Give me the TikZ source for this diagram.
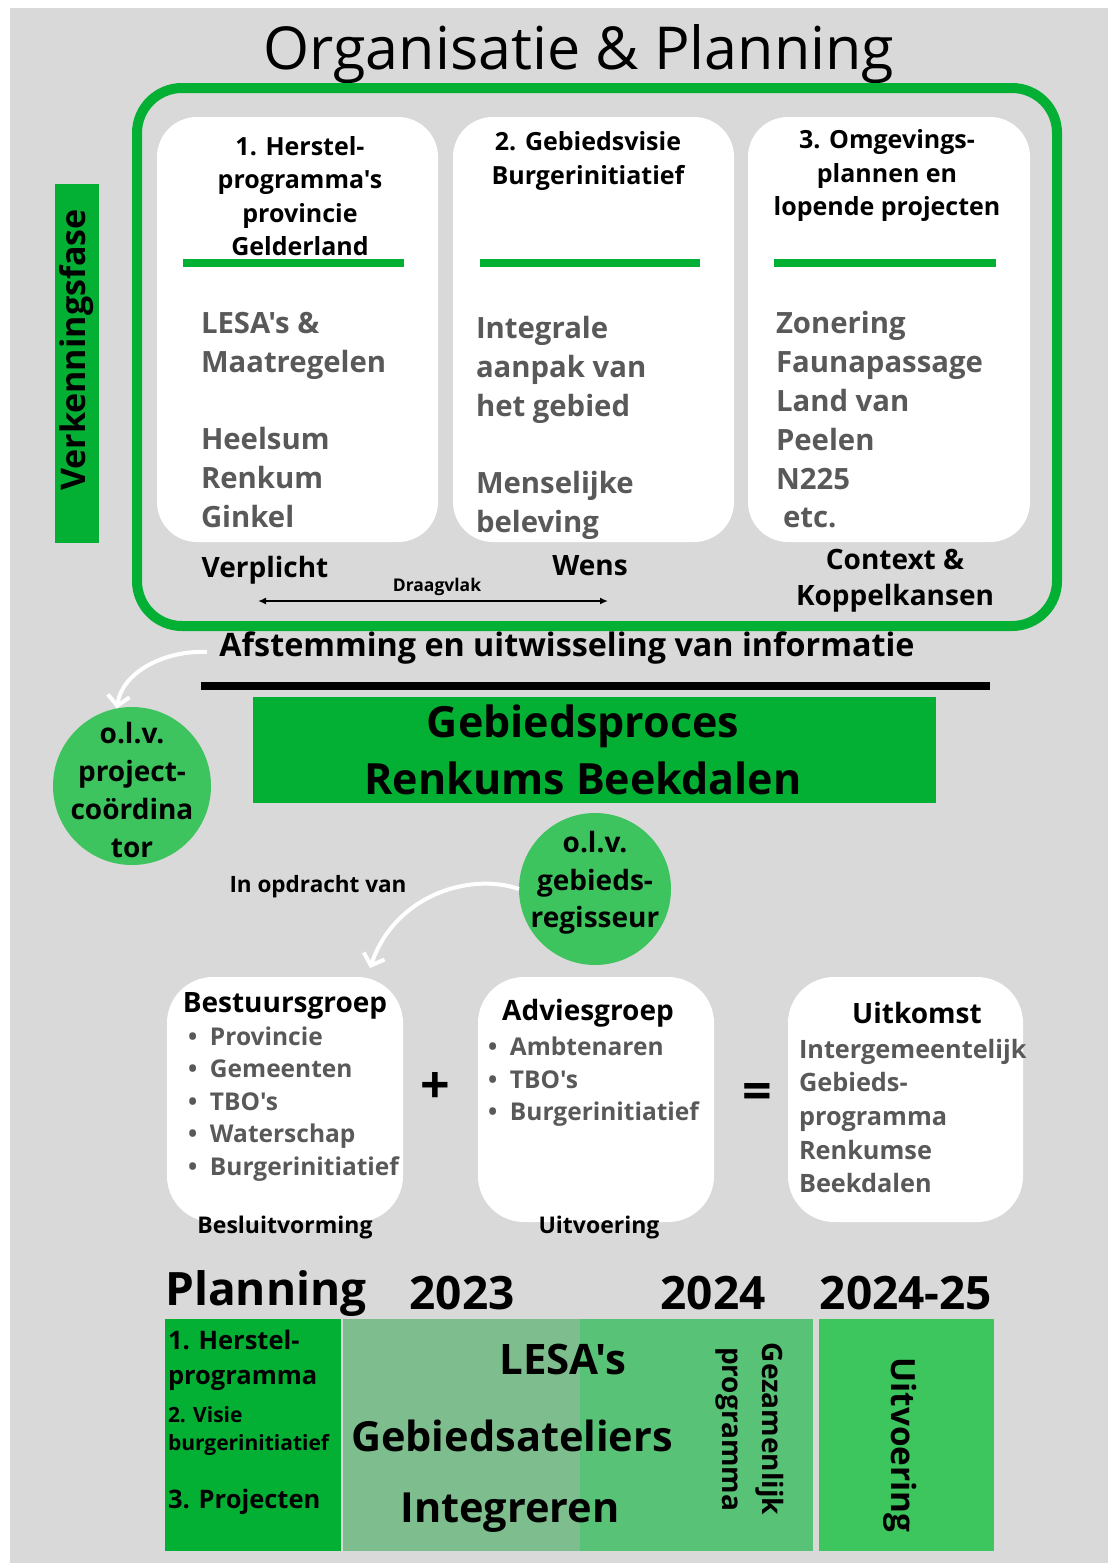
\documentclass[tikz,border=0pt]{standalone}
\usepackage{fontspec}
\setmainfont{Open Sans}[Ligatures=TeXOff]
\usetikzlibrary{arrows.meta}
\definecolor{bgc}{HTML}{D9D9D9}
\definecolor{dg}{HTML}{03B034}
\definecolor{cg}{HTML}{3EC45E}
\definecolor{mone}{HTML}{7EBD8D}
\definecolor{mtwo}{HTML}{58C277}
\definecolor{rg}{HTML}{3DC55E}
\definecolor{gt}{HTML}{595959}
\newcommand{\fsz}[2]{\fontsize{#1pt}{#2pt}\selectfont}
\begin{document}
\begin{tikzpicture}[x=1pt,y=-1pt,
  every node/.style={inner sep=0pt,outer sep=0pt},
  wbox/.style={fill=white,rounded corners=40pt,anchor=north west},
  lbox/.style={fill=white,rounded corners=46pt,anchor=north west,minimum width=236pt,minimum height=245pt},
  head/.style={font=\bfseries\fsz{25}{33.5},align=center,text=black},
  body/.style={font=\bfseries\fsz{29.3}{38.8},align=left,anchor=west,text=gt},
  lab/.style={font=\bfseries\fsz{28}{36},align=center,text=black},
  btitle/.style={font=\bfseries\fsz{28}{32},text=black},
  blist/.style={font=\bfseries\fsz{24.5}{32.5},align=left,anchor=west,text=gt},
  ctext/.style={font=\bfseries\fsz{28}{37.7},align=center,text=black},
  year/.style={font=\bfseries\fsz{46}{50},text=black},
  big/.style={font=\bfseries\fsz{41.5}{44}},
  cell/.style={anchor=north west},
  warrow/.style={white,line width=4pt,-{Straight Barb[length=10pt,width=22pt,line width=4pt]}},
  divider/.style={dg,line width=8pt}]
\useasboundingbox (0,0) rectangle (1108,1563);
\fill[white] (0,0) rectangle (1108,1563);
\fill[bgc] (10,8) rectangle (1108,1563);

% title
\node[font=\fsz{59.2}{62}] (title) at (579,54) {Organisatie \& Planning};

% outer frame
\node[draw=dg,line width=10pt,rounded corners=45pt,anchor=north west,minimum width=920pt,minimum height=538pt] (frame) at (137,88) {};

% verkenningsfase
\node[fill=dg,anchor=north west,minimum width=44pt,minimum height=359pt] (vk) at (55,184) {};
\node[font=\bfseries\fsz{34}{38},rotate=90] (vkt) at (77,350) {Verkenningsfase};

% three white boxes
\node[wbox,minimum width=281pt,minimum height=425pt] (b1) at (157,117) {};
\node[wbox,minimum width=281pt,minimum height=425pt] (b2) at (453,117) {};
\node[wbox,minimum width=282pt,minimum height=425pt] (b3) at (748,117) {};

\node[head] (h1) at (300,196) {1. Herstel-\\programma's\\provincie\\Gelderland};
\node[head] (h2) at (588,161) {2. Gebiedsvisie\\Burgerinitiatief};
\node[head] (h3) at (887,176) {3. Omgevings-\\plannen en\\lopende projecten};

\draw[divider] (183,263) -- (404,263);
\draw[divider] (480,263) -- (700,263);
\draw[divider] (774,263) -- (996,263);

\node[body] (t1) at (201,420) {LESA's \&\\Maatregelen\\[38.8pt]Heelsum\\Renkum\\Ginkel};
\node[body] (t2) at (476,428) {Integrale\\aanpak van\\het gebied\\[38.8pt]Menselijke\\beleving};
\node[body] (t3) at (776,420) {Zonering\\Faunapassage\\Land van\\Peelen\\N225\\\hspace{7pt}etc.};

\node[lab] (verp) at (265,570) {Verplicht};
\node[lab] (wens) at (590,566) {Wens};
\node[lab] (ctx) at (895,581) {Context \&\\Koppelkansen};
\node[font=\bfseries\fsz{17.5}{20}] (draag) at (437,587) {Draagvlak};
\coordinate (da) at (258,601);
\coordinate (db) at (608,601);
\draw[{Latex[length=8pt,width=7pt]}-{Latex[length=8pt,width=7pt]},line width=1.8pt] (da) -- (db);

% afstemming
\node[font=\bfseries\fsz{32.3}{36}] (afst) at (567,648) {Afstemming en uitwisseling van informatie};
\coordinate (bla) at (201,686);
\coordinate (blb) at (990,686);
\draw[line width=8pt] (bla) -- (blb);

% gebiedsproces
\node[fill=dg,anchor=north west,minimum width=683pt,minimum height=106pt] (gp) at (253,697) {};
\node[font=\bfseries\fsz{43}{57},align=center] (gpt) at (583,750) {Gebiedsproces\\Renkums Beekdalen};

% circles
\node[circle,fill=cg,minimum size=158pt] (pc) at (132,786) {};
\node[ctext] (pct) at (132,790) {o.l.v.\\project-\\coördina\\tor};
\node[circle,fill=cg,minimum size=152pt] (gr) at (595,889) {};
\node[ctext] (grt) at (595,883) {o.l.v.\\gebieds-\\regisseur};

\node[font=\bfseries\fsz{22.5}{26}] (opd) at (318,887) {In opdracht van};

% white arrows
\coordinate (la) at (207,652);
\draw[warrow] (la) .. controls (165,650) and (122,672) .. (pc.101);
\coordinate (mb) at (370,968);
\draw[warrow] (gr.west) .. controls (470,872) and (395,895) .. (mb);

% lower boxes
\node[lbox] (bg) at (167,977) {};
\node[lbox] (ag) at (478,977) {};
\node[lbox,minimum width=235pt] (uk) at (788,977) {};

\node[btitle] (bgt) at (285,1006) {Bestuursgroep};
\node[blist] (bgl) at (188,1104) {\makebox[22pt][l]{•}Provincie\\\makebox[22pt][l]{•}Gemeenten\\\makebox[22pt][l]{•}TBO's\\\makebox[22pt][l]{•}Waterschap\\\makebox[22pt][l]{•}Burgerinitiatief};
\node[btitle] (agt) at (588,1013) {Adviesgroep};
\node[blist] (agl) at (488,1082) {\makebox[22pt][l]{•}Ambtenaren\\\makebox[22pt][l]{•}TBO's\\\makebox[22pt][l]{•}Burgerinitiatief};
\node[btitle] (ukt) at (917,1013) {Uitkomst};
\node[blist,font=\bfseries\fsz{25.3}{33.7}] (ukl) at (799,1116) {Intergemeentelijk\\Gebieds-\\programma\\Renkumse\\Beekdalen};

\node[font=\bfseries\fsz{52}{52}] (plus) at (435,1088) {+};
\node[font=\bfseries\fsz{52}{52}] (eq) at (757,1096) {=};
\node[font=\bfseries\fsz{23}{26}] (besl) at (285,1228) {Besluitvorming};
\node[font=\bfseries\fsz{23}{26}] (uitv) at (599,1228) {Uitvoering};

% planning
\node[year] (pl) at (266,1294) {Planning};
\node[year] (y1) at (462,1293) {2023};
\node[year] (y2) at (713,1293) {2024};
\node[year] (y3) at (906,1293) {2024-25};

\node[cell,fill=dg,minimum width=176pt,minimum height=232pt] (c0) at (165,1319) {};
\node[cell,fill=mone,minimum width=237pt,minimum height=232pt] (c1) at (343,1319) {};
\node[cell,fill=mtwo,minimum width=233pt,minimum height=232pt] (c2) at (580,1319) {};
\node[cell,fill=rg,minimum width=175pt,minimum height=232pt] (c3) at (819,1319) {};

\node[font=\bfseries\fsz{25.5}{35},align=left,anchor=west] (p1) at (168,1360) {1. Herstel-\\programma};
\node[font=\bfseries\fsz{21}{28},align=left,anchor=west] (p2) at (168,1431) {2. Visie\\burgerinitiatief};
\node[font=\bfseries\fsz{25.5}{28},anchor=west] (p3) at (168,1502) {3. Projecten};

\node[big,font=\bfseries\fsz{42}{44}] (lesa) at (563,1359) {LESA's};
\node[big] (ateliers) at (512,1436) {Gebiedsateliers};
\node[big] (integr) at (510,1513) {Integreren};
\node[font=\bfseries\fsz{28}{40},align=center,rotate=-90] (gez) at (750,1429) {Gezamenlijk\\programma};
\node[font=\bfseries\fsz{33.3}{36},rotate=-90] (uitv2) at (900,1445) {Uitvoering};
\end{tikzpicture}
\end{document}
